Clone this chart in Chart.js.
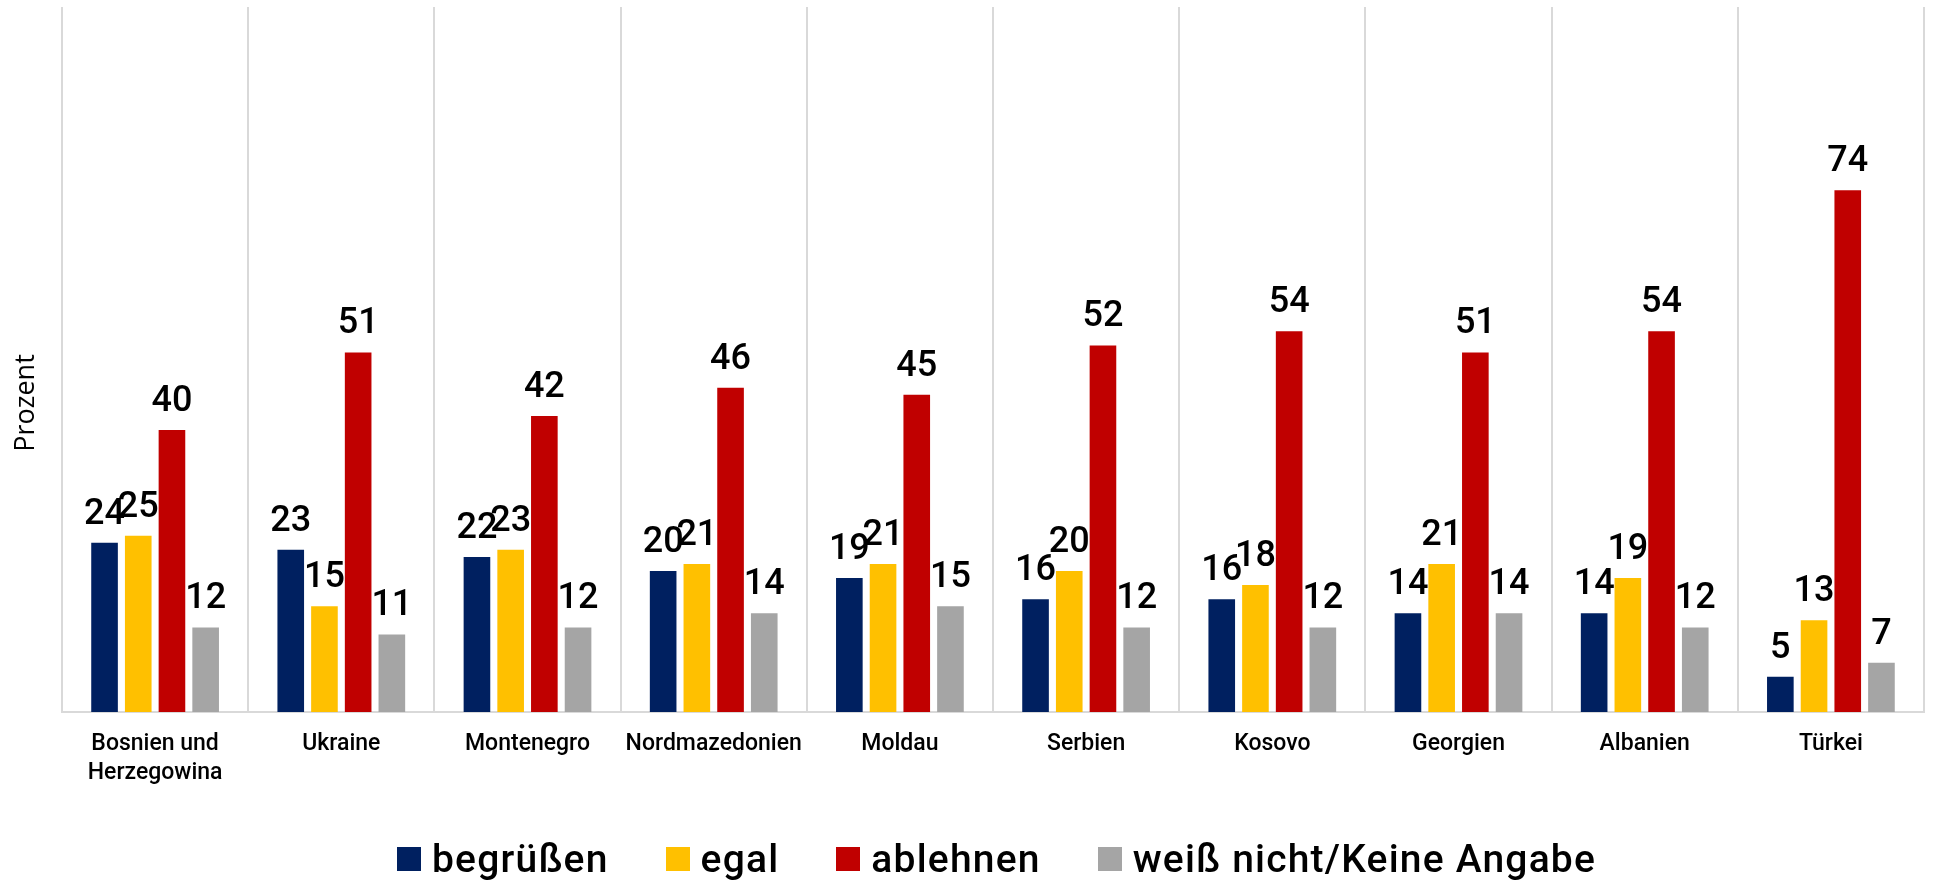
<!DOCTYPE html>
<html lang="de">
<head>
<meta charset="utf-8">
<title>Prozent</title>
<script src="https://cdn.jsdelivr.net/npm/chart.js@4/dist/chart.umd.min.js"></script>
<style>
    html, body { margin: 0; padding: 0; background: #fff; }
    #wrap { position: relative; width: 1950px; height: 883px; }
    #legend {
        position: absolute; left: 397px; top: 835px; height: 48px;
        display: flex; align-items: center; gap: 57px;
        font-family: Roboto, sans-serif; font-weight: 500; font-size: 39px;
        letter-spacing: 1.2px; color: #000;
    }
    #legend .item { display: flex; align-items: center; gap: 11px; }
    #legend .box { width: 24px; height: 24px; }
</style>
</head>
<body>
<div id="wrap">
    <canvas id="chart" width="1950" height="883"></canvas>
    <div id="legend"></div>
</div>
<script>
const countries = [
    ['Bosnien und', 'Herzegowina'], 'Ukraine', 'Montenegro', 'Nordmazedonien', 'Moldau',
    'Serbien', 'Kosovo', 'Georgien', 'Albanien', 'Türkei'
];
const seriesNames = ['begrüßen', 'egal', 'ablehnen', 'weiß nicht/Keine Angabe'];
const seriesColors = ['#002060', '#FFC000', '#C00000', '#A5A5A5'];

const begruessen = [24, 23, 22, 20, 19, 16, 16, 14, 14, 5];
const egal       = [25, 15, 23, 21, 21, 20, 18, 21, 19, 13];
const ablehnen   = [40, 51, 42, 46, 45, 52, 54, 51, 54, 74];
const weissNicht = [12, 11, 12, 14, 15, 12, 12, 14, 12, 7];

const seriesValues = [begruessen, egal, ablehnen, weissNicht];

// value labels above each bar
const valueLabels = {
    id: 'valueLabels',
    afterDatasetsDraw(chart) {
        const ctx = chart.ctx;
        ctx.save();
        ctx.font = '500 36px Roboto, sans-serif';
        ctx.fillStyle = '#000';
        ctx.textAlign = 'center';
        ctx.textBaseline = 'alphabetic';
        chart.data.datasets.forEach((ds, i) => {
            chart.getDatasetMeta(i).data.forEach((bar, j) => {
                ctx.fillText(String(ds.data[j]), bar.x, bar.y - 19);
            });
        });
        ctx.restore();
    }
};

// y axis title, sits a bit below the middle like in the original
const yTitle = {
    id: 'yTitle',
    afterDraw(chart) {
        const ctx = chart.ctx;
        ctx.save();
        ctx.translate(26, 403);
        ctx.rotate(-Math.PI / 2);
        ctx.font = '27px "Open Sans", sans-serif';
        ctx.fillStyle = '#000';
        ctx.textAlign = 'center';
        ctx.textBaseline = 'middle';
        ctx.fillText('Prozent', 0, 0);
        ctx.restore();
    }
};

new Chart(document.getElementById('chart'), {
    type: 'bar',
    data: {
        labels: countries,
        datasets: seriesNames.map((name, i) => ({
            label: name,
            data: seriesValues[i],
            backgroundColor: seriesColors[i],
            borderWidth: 0,
            categoryPercentage: 0.724,
            barPercentage: 0.79
        }))
    },
    options: {
        responsive: false,
        animation: false,
        layout: { padding: { top: 7, right: 26, left: 62, bottom: 71 } },
        plugins: {
            legend: { display: false },
            tooltip: { enabled: false }
        },
        scales: {
            x: {
                afterFit: s => { s.height = 100; },
                grid: { color: '#d9d9d9', lineWidth: 2, drawTicks: false, offset: true },
                border: { color: '#d9d9d9', width: 2 },
                ticks: {
                    color: '#000',
                    padding: 18,
                    maxRotation: 0,
                    autoSkip: false,
                    font: { family: 'Roboto, sans-serif', size: 23, weight: '500', lineHeight: '29px' }
                }
            },
            y: {
                display: false,
                min: 0,
                max: 100
            }
        }
    },
    plugins: [valueLabels, yTitle]
});

document.getElementById('legend').innerHTML = seriesNames.map((name, i) =>
    `<div class="item"><span class="box" style="background:${seriesColors[i]}"></span><span>${name}</span></div>`
).join('');
</script>
</body>
</html>
